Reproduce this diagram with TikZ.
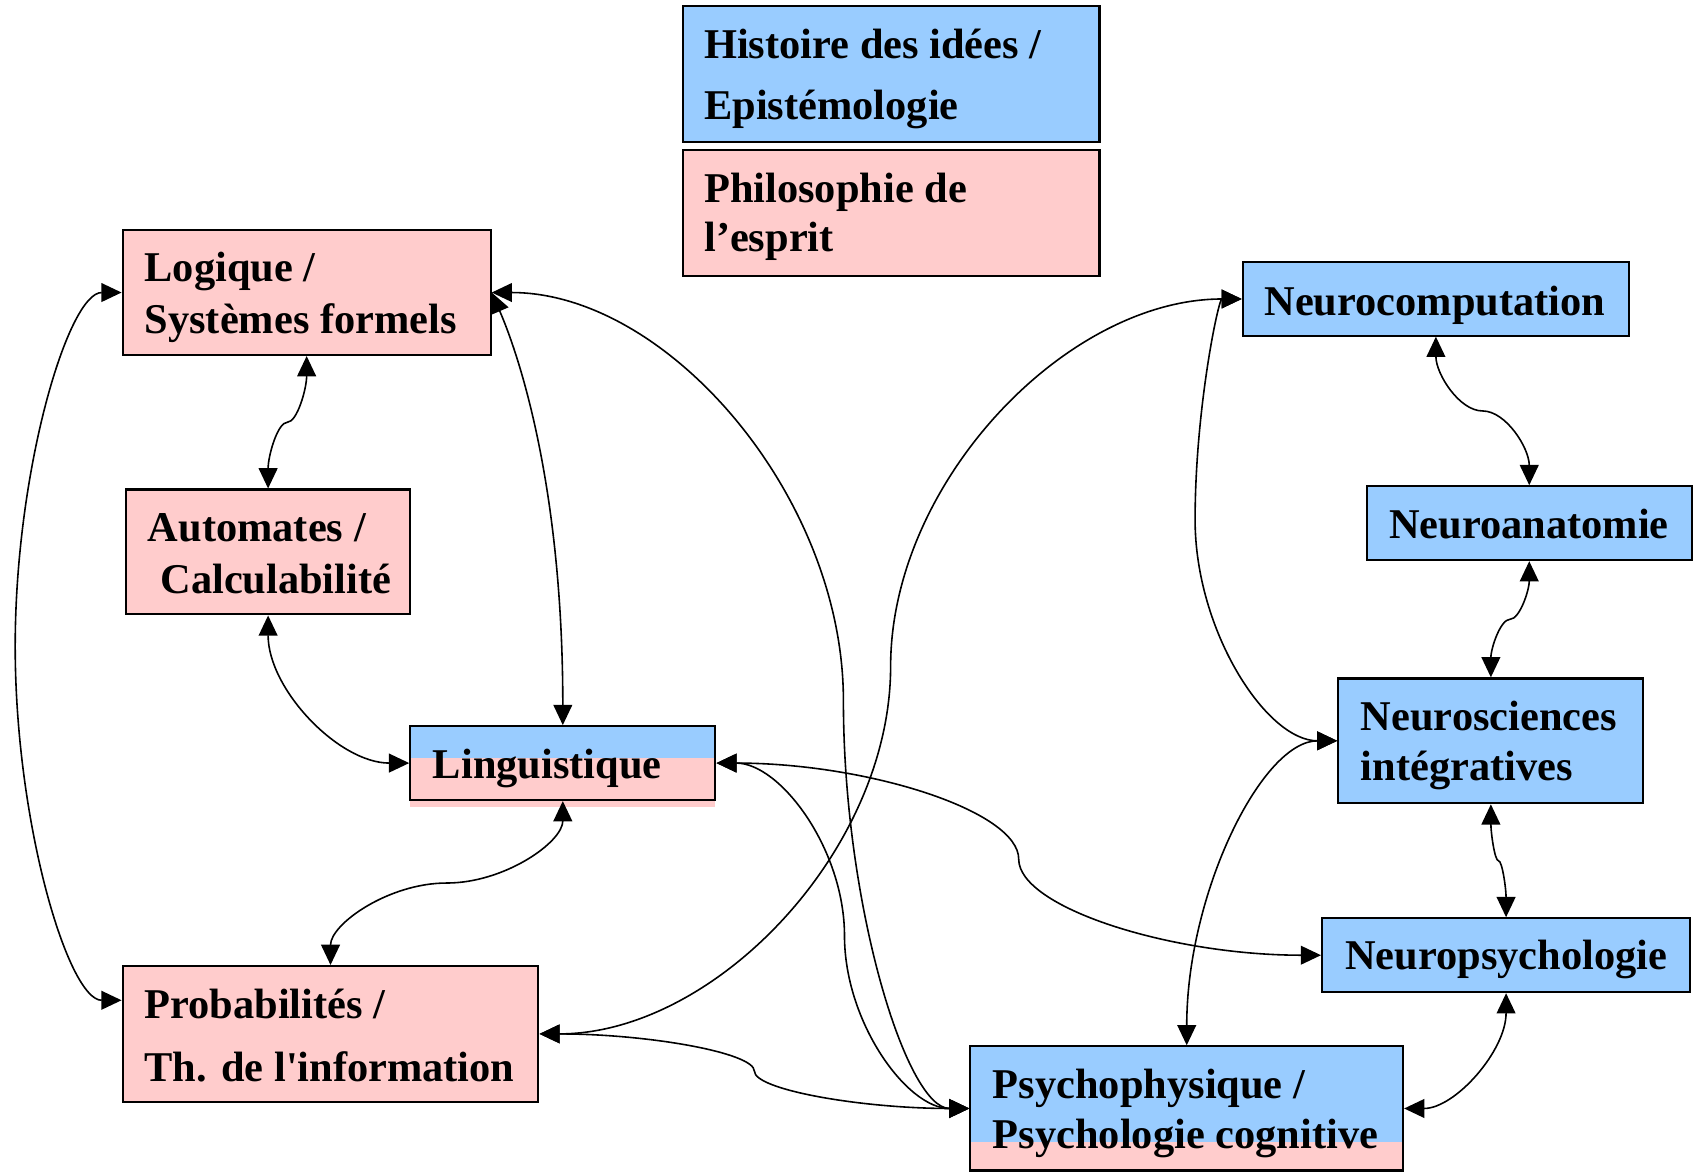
\documentclass[tikz,border=0pt]{standalone}
\usepackage{fontspec}
\setmainfont{Liberation Serif}
\usetikzlibrary{arrows.meta,calc,fit}
\definecolor{bl}{HTML}{99CCFF}
\definecolor{pk}{HTML}{FFCCCC}
\tikzset{
  boxst/.style={draw=black, line width=1.5pt, inner sep=0pt, outer sep=0.75pt, rectangle},
  lbl/.style={anchor=base west, inner sep=0pt, font=\fontsize{29.3}{35}\selectfont\bfseries},
  conn/.style={line width=1.1pt, {Triangle[length=14pt,width=13pt]}-{Triangle[length=14pt,width=13pt]}},
}
% horizontal S connector, #3 gives the x of the middle
\newcommand{\hS}[3]{\draw[conn] let \p1=(#1), \p2=(#2), \p3=(#3) in
  (\p1) .. controls ({0.5*(\x1)+0.5*(\x3)},\y1) and (\x3,{0.75*(\y1)+0.25*(\y2)}) ..
  (\x3,{0.5*(\y1)+0.5*(\y2)}) .. controls (\x3,{0.25*(\y1)+0.75*(\y2)}) and ({0.5*(\x2)+0.5*(\x3)},\y2) .. (\p2);}
% vertical S connector, #3 gives the y of the middle
\newcommand{\vS}[3]{\draw[conn] let \p1=(#1), \p2=(#2), \p3=(#3) in
  (\p1) .. controls (\x1,{0.5*(\y1)+0.5*(\y3)}) and ({0.75*(\x1)+0.25*(\x2)},\y3) ..
  ({0.5*(\x1)+0.5*(\x2)},\y3) .. controls ({0.25*(\x1)+0.75*(\x2)},\y3) and (\x2,{0.5*(\y2)+0.5*(\y3)}) .. (\p2);}
% vertical start, horizontal end
\newcommand{\vL}[2]{\draw[conn] let \p1=(#1), \p2=(#2) in
  (\p1) .. controls (\x1,{0.5*(\y1)+0.5*(\y2)}) and ({0.5*(\x1)+0.5*(\x2)},\y2) .. (\p2);}
% horizontal start, vertical end
\newcommand{\hL}[2]{\draw[conn] let \p1=(#1), \p2=(#2) in
  (\p1) .. controls ({0.5*(\x1)+0.5*(\x2)},\y1) and (\x2,{0.5*(\y1)+0.5*(\y2)}) .. (\p2);}
\begin{document}
\begin{tikzpicture}[x=0.75pt,y=-0.75pt]
\useasboundingbox (0,0) rectangle (1568,1081);

% legend
\node[boxst, fill=bl, fit={(629,5.5) (1013,130.5)}] (hist) {};
\node[boxst, fill=pk, fit={(629,138.5) (1013,254)}] (philo) {};
\node[lbl] (thist1) at (648.5,53.7) {Histoire des idées /};
\node[lbl] (thist2) at (648.5,110.5) {Epistémologie};
\node[lbl] (tphilo1) at (648.5,186.4) {Philosophie de};
\node[lbl] (tphilo2) at (648.5,231.9) {l’esprit};

% left boxes
\node[boxst, fill=pk, fit={(113,212) (452,327)}] (logique) {};
\node[lbl] (tlog1) at (133,259.5) {Logique /};
\node[lbl] (tlog2) at (133,307) {Systèmes formels};

\node[boxst, fill=pk, fit={(116,451) (378,566)}] (auto) {};
\node[lbl] (tauto1) at (136,499) {Automates /};
\node[lbl] (tauto2) at (147.5,546.7) {Calculabilité};

\fill[bl] (378,669) rectangle (659,698);
\fill[pk] (378,698) rectangle (659,743);
\node[boxst, fit={(378,669) (659,737)}] (ling) {};
\node[lbl] (tling) at (398.6,717.6) {Linguistique};

\node[boxst, fill=pk, fit={(113,890) (496,1015)}] (prob) {};
\node[lbl] (tprob1) at (133,938) {Probabilités /};
\node[lbl] (tprob2) at (133,996) {Th. de l\textquotesingle information};

\fill[bl] (894,964) rectangle (1292.6,1051.7);
\fill[pk] (894,1051.7) rectangle (1292.6,1078.4);
\node[boxst, fit={(894,964) (1292.6,1078.4)}] (psych) {};
\node[lbl] (tpsy1) at (914.5,1012.4) {Psychophysique /};
\node[lbl] (tpsy2) at (914.5,1058.5) {Psychologie cognitive};

% right boxes
\node[boxst, fill=bl, fit={(1145,241.7) (1500.7,309.2)}] (neurocomp) {};
\node[lbl] (tncomp) at (1164.7,290.2) {Neurocomputation};
\node[boxst, fill=bl, fit={(1259,448) (1558.7,516)}] (neuroanat) {};
\node[lbl] (tnanat) at (1279.6,495.9) {Neuroanatomie};
\node[boxst, fill=bl, fit={(1233,625) (1514,740)}] (neurosci) {};
\node[lbl] (tnsci1) at (1253.5,673) {Neurosciences};
\node[lbl] (tnsci2) at (1253.5,719) {intégratives};
\node[boxst, fill=bl, fit={(1218,846) (1557,914)}] (neuropsy) {};
\node[lbl] (tnpsy) at (1239,893.6) {Neuropsychologie};

% connectors
\coordinate (probL) at ($(prob.north west)!0.256!(prob.south west)$);
\hS{logique.west}{probL}{14,0}
\vS{logique.south}{auto.north}{$(logique.south)!.5!(auto.north)$}
\draw[conn] (logique.east) .. controls ($(logique.east)+(26,60)$) and ($(ling.north)+(0,-218)$) .. (ling.north);
\hS{logique.east}{psych.west}{777,0}
\vL{auto.south}{ling.west}
\vS{ling.south}{prob.north}{$(ling.south)!.5!(prob.north)$}
\hS{ling.east}{psych.west}{778,0}
\hS{ling.east}{neuropsy.west}{$(ling.east)!.5!(neuropsy.west)$}
\hS{prob.east}{neurocomp.west}{$(prob.east)!.5!(neurocomp.west)$}
\hS{prob.east}{psych.west}{$(prob.east)!.5!(psych.west)$}
\hS{neurocomp.west}{neurosci.west}{1101,0}
\vS{neurocomp.south}{neuroanat.north}{$(neurocomp.south)!.5!(neuroanat.north)$}
\vS{neuroanat.south}{neurosci.north}{$(neuroanat.south)!.5!(neurosci.north)$}
\vS{neurosci.south}{neuropsy.north}{$(neurosci.south)!.5!(neuropsy.north)$}
\hL{neurosci.west}{psych.north}
\hL{psych.east}{neuropsy.south}
\end{tikzpicture}
\end{document}
